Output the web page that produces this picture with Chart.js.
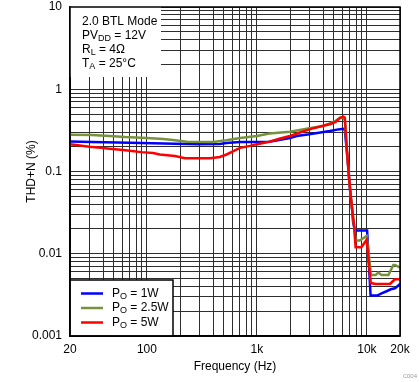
<!DOCTYPE html>
<html>
<head>
<meta charset="utf-8">
<script src="https://cdn.jsdelivr.net/npm/chart.js@4.4.1/dist/chart.umd.min.js"></script>
<style>
  html, body { margin: 0; padding: 0; background: #fff; }
  #wrap { width: 419px; height: 382px; position: relative; }
</style>
</head>
<body>
<div id="wrap"><canvas id="chart-thd"></canvas></div>
<script>
// frequency (Hz) / THD+N (%)
var freqBlue = [20, 31.5, 70, 180, 300, 461, 530, 702, 1000, 1300, 2000, 2300, 3000, 4600, 5500, 6100, 6300, 6550, 6800, 7100, 7300, 7500, 7800, 10050, 10800, 12400, 13600, 15100, 16500, 18000, 19700, 20000];
var thdBlue = [0.232, 0.228, 0.224, 0.218, 0.215, 0.216, 0.222, 0.228, 0.228, 0.23, 0.255, 0.27, 0.283, 0.31, 0.325, 0.33, 0.32, 0.185, 0.106, 0.05, 0.038, 0.024, 0.0192, 0.0192, 0.0031, 0.0031, 0.0033, 0.0035, 0.0037, 0.0038, 0.0042, 0.0043];

var freqGreen = [20, 31.5, 46, 63, 100, 141, 180, 230, 400, 530, 702, 1000, 1300, 2000, 3000, 4000, 5000, 5700, 6100, 6300, 6550, 6900, 7300, 7650, 7900, 8600, 9960, 10900, 12000, 12700, 13600, 15700, 17400, 18000, 20000];
var thdGreen = [0.28, 0.277, 0.27, 0.262, 0.255, 0.248, 0.24, 0.23, 0.228, 0.24, 0.255, 0.27, 0.29, 0.305, 0.335, 0.357, 0.4, 0.45, 0.45, 0.43, 0.2, 0.08, 0.037, 0.022, 0.0145, 0.0145, 0.0165, 0.0055, 0.0055, 0.0059, 0.0055, 0.0055, 0.0073, 0.0073, 0.0068];

var freqRed = [20, 24.6, 30, 36, 46, 61, 73, 89, 114, 131, 180, 222, 375, 461, 530, 600, 702, 870, 1000, 1300, 1600, 2000, 2500, 3000, 4000, 4600, 5200, 5700, 6100, 6300, 6550, 6900, 7300, 7650, 7900, 8900, 9960, 10850, 12000, 14000, 16200, 17400, 18000, 20000];
var thdRed = [0.215, 0.207, 0.2, 0.196, 0.189, 0.182, 0.177, 0.172, 0.168, 0.161, 0.154, 0.145, 0.145, 0.15, 0.161, 0.175, 0.194, 0.205, 0.215, 0.23, 0.25, 0.27, 0.3, 0.325, 0.36, 0.375, 0.4, 0.45, 0.465, 0.45, 0.2, 0.08, 0.037, 0.022, 0.012, 0.012, 0.0148, 0.0044, 0.0043, 0.0043, 0.0043, 0.0047, 0.0049, 0.0049];

var seriesPower = ['1W', '2.5W', '5W'];
var seriesColors = ['#0000ff', '#76923c', '#ff0000'];

// grid lines and which of them carry a label
var xGrid = [20, 30, 40, 50, 60, 70, 80, 90, 100, 200, 300, 400, 500, 600, 700, 800, 900,
  1000, 2000, 3000, 4000, 5000, 6000, 7000, 8000, 9000, 10000, 20000];
var xTickLabels = { 20: '20', 100: '100', 1000: '1k', 10000: '10k', 20000: '20k' };
var yGrid = [0.001, 0.002, 0.003, 0.004, 0.005, 0.006, 0.007, 0.008, 0.009,
  0.01, 0.02, 0.03, 0.04, 0.05, 0.06, 0.07, 0.08, 0.09,
  0.1, 0.2, 0.3, 0.4, 0.5, 0.6, 0.7, 0.8, 0.9,
  1, 2, 3, 4, 5, 6, 7, 8, 9, 10];
var yTickLabels = { 0.001: '0.001', 0.01: '0.01', 0.1: '0.1', 1: '1', 10: '10' };

var conditions = [
  ['2.0 BTL Mode', '', ''],
  ['PV', 'DD', ' = 12V'],
  ['R', 'L', ' = 4\u03A9'],
  ['T', 'A', ' = 25\u00B0C']
];

var FONT = "'Liberation Sans', Arial, sans-serif";
var gridColor = '#2e2e2e';

function pts(xs, ys) {
  return xs.map(function (x, i) { return { x: x, y: ys[i] }; });
}

function drawSub(ctx, x, y, main, sub, rest, size) {
  ctx.font = size + 'px ' + FONT;
  ctx.textBaseline = 'middle';
  ctx.textAlign = 'left';
  ctx.fillText(main, x, y);
  x += ctx.measureText(main).width;
  if (sub) {
    ctx.font = Math.round(size * 0.72) + 'px ' + FONT;
    ctx.fillText(sub, x, y + 3);
    x += ctx.measureText(sub).width;
  }
  ctx.font = size + 'px ' + FONT;
  ctx.fillText(rest, x, y);
}

var overlay = {
  id: 'overlay',
  afterDraw: function (chart) {
    var ctx = chart.ctx;
    var a = chart.chartArea;
    ctx.save();

    // conditions box
    ctx.fillStyle = '#fff';
    ctx.fillRect(a.left, a.top, 91, 70);
    ctx.fillStyle = '#000';
    conditions.forEach(function (c, i) {
      drawSub(ctx, a.left + 12, a.top + 15 + i * 14, c[0], c[1], c[2], 12);
    });

    // legend box
    var lx = a.left, ly = a.bottom - 56, lw = 103, lh = 56;
    ctx.fillStyle = '#fff';
    ctx.fillRect(lx, ly, lw, lh);
    ctx.strokeStyle = '#000';
    ctx.lineWidth = 1.5;
    ctx.strokeRect(lx, ly, lw, lh);
    seriesPower.forEach(function (p, i) {
      var yy = ly + 13.5 + i * 14.5;
      ctx.strokeStyle = seriesColors[i];
      ctx.lineWidth = 2.5;
      ctx.beginPath();
      ctx.moveTo(lx + 11, yy);
      ctx.lineTo(lx + 33, yy);
      ctx.stroke();
      ctx.fillStyle = '#000';
      drawSub(ctx, lx + 42, yy, 'P', 'O', ' = ' + p, 12);
    });

    // plot frame
    ctx.strokeStyle = '#000';
    ctx.lineWidth = 1.5;
    ctx.strokeRect(a.left, a.top, a.right - a.left, a.bottom - a.top);

    ctx.fillStyle = '#999';
    ctx.font = '6px ' + FONT;
    ctx.textAlign = 'right';
    ctx.textBaseline = 'middle';
    ctx.fillText('C004', 417, 376);
    ctx.restore();
  }
};

function init() {
  var ctx = document.getElementById('chart-thd');
  var lines = [
    { label: 'PO = 1W', data: pts(freqBlue, thdBlue), color: seriesColors[0], order: 3 },
    { label: 'PO = 2.5W', data: pts(freqGreen, thdGreen), color: seriesColors[1], order: 2 },
    { label: 'PO = 5W', data: pts(freqRed, thdRed), color: seriesColors[2], order: 1 }
  ];

  new Chart(ctx, {
    type: 'line',
    data: {
      datasets: lines.map(function (l) {
        return {
          label: l.label,
          data: l.data,
          borderColor: l.color,
          backgroundColor: l.color,
          borderWidth: 2.5,
          pointRadius: 0,
          tension: 0,
          fill: false,
          order: l.order
        };
      })
    },
    options: {
      responsive: true,
      maintainAspectRatio: false,
      animation: false,
      devicePixelRatio: 1,
      layout: { padding: { top: 0, right: 19, left: 0, bottom: 0 } },
      plugins: { legend: { display: false }, tooltip: { enabled: false } },
      scales: {
        x: {
          type: 'logarithmic',
          min: 20,
          max: 20000,
          afterBuildTicks: function (s) {
            s.ticks = xGrid.map(function (v) { return { value: v }; });
          },
          afterFit: function (s) { s.height = 46; },
          ticks: {
            autoSkip: false,
            maxRotation: 0,
            padding: 6,
            color: '#000',
            font: { family: FONT, size: 12 },
            callback: function (v) { return xTickLabels[v] || ''; }
          },
          grid: { color: gridColor, lineWidth: 1, drawTicks: false },
          border: { color: '#000', width: 1.5 },
          title: {
            display: true,
            text: 'Frequency (Hz)',
            color: '#000',
            font: { family: FONT, size: 12 },
            padding: { top: 0, bottom: 8 }
          }
        },
        y: {
          type: 'logarithmic',
          min: 0.001,
          max: 10,
          afterBuildTicks: function (s) {
            s.ticks = yGrid.map(function (v) { return { value: v }; });
          },
          afterFit: function (s) {
            s.width = 70;
            s.paddingTop = 7;
            s.paddingBottom = 0;
          },
          ticks: {
            autoSkip: false,
            padding: 8,
            color: '#000',
            font: { family: FONT, size: 12 },
            callback: function (v) { return yTickLabels[v] || ''; }
          },
          grid: { color: gridColor, lineWidth: 1, drawTicks: false },
          border: { color: '#000', width: 1.5 },
          title: {
            display: true,
            text: 'THD+N (%)',
            color: '#000',
            font: { family: FONT, size: 12 },
            padding: { top: 24, bottom: 0 }
          }
        }
      }
    },
    plugins: [overlay]
  });
}

if (document.readyState === 'loading') {
  document.addEventListener('DOMContentLoaded', init);
} else {
  init();
}
</script>
</body>
</html>
